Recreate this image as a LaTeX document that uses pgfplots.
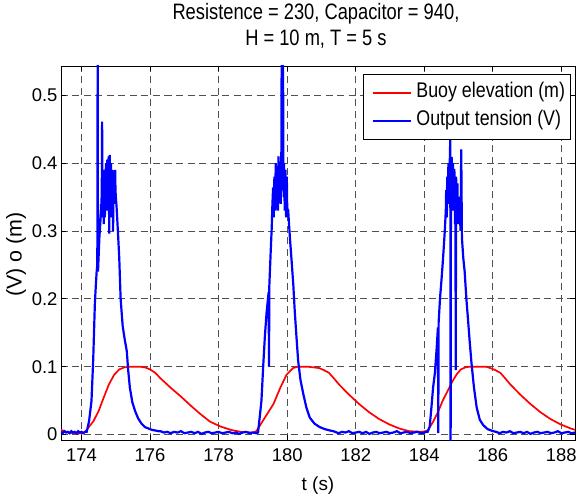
\documentclass[border=0pt]{standalone}
\usepackage{fontspec}
\setmainfont{Liberation Sans}
\newfontfamily\narrowfont{Liberation Sans}[FakeStretch=0.84]
\newfontfamily\titlefont{Liberation Sans}[FakeStretch=0.82]
\usepackage{pgfplots}
\pgfplotsset{compat=1.18}
\definecolor{gridgray}{RGB}{80,80,80}
\begin{document}
\begin{tikzpicture}
\useasboundingbox (-61bp,-59bp) rectangle (516bp,440bp);
\begin{axis}[
  at={(0,0)}, anchor=south west,
  scale only axis, width=514bp, height=374bp,
  xmin=173.4, xmax=188.4, ymin=-0.008, ymax=0.543,
  xtick={174,176,178,180,182,184,186,188},
  ytick={0,0.1,0.2,0.3,0.4,0.5},
  /pgf/number format/assume math mode=true,
  /pgf/number format/fixed,
  ticklabel style={font=\fontsize{18.5}{20}\selectfont},
  xticklabel style={yshift=-5bp},
  tick align=inside, major tick length=5bp,
  tick style={black, line width=0.7bp},
  axis line style={black, line width=0.9bp},
  grid=major,
  grid style={gridgray, line width=0.7bp, dash pattern=on 7bp off 4.5bp},
  title={Resistence = 230, Capacitor = 940,\\H = 10 m, T = 5 s},
  title style={align=center, font=\titlefont\fontsize{22.4}{26}\selectfont,
    at={(axis description cs:0.496,1)}, anchor=south, inner sep=0pt, text depth=0pt, yshift=14bp},
  xlabel={t (s)},
  xlabel style={font=\fontsize{19}{20}\selectfont, at={(axis description cs:0.5,0)}, anchor=base, inner sep=0pt, yshift=-50bp},
  ylabel={(V) o (m)},
  ylabel style={font=\fontsize{21.5}{22}\selectfont, at={(axis description cs:-0.0875,0.496)}, anchor=center},
  legend cell align=left,
  legend style={at={(axis description cs:0.5875,0.9786)}, anchor=north west,
    draw=black, line width=0.9bp, fill=white,
    inner xsep=5bp, inner ysep=10bp, row sep=10bp,
    font=\narrowfont\fontsize{21.3}{22}\selectfont,
    nodes={inner sep=0pt, text height=13.5bp, text depth=4bp},
    /tikz/every odd column/.append style={column sep=5bp}},
  legend image code/.code={\path (0bp,0bp); \draw[#1, line width=1.8bp] (3bp,0bp) -- (41bp,0bp);},
]
\addplot[red, line width=1.7bp] coordinates {
(173.40,0.007) (173.55,0.004) (173.75,0.002) (173.95,0.002) (174.05,0.002)
(174.15,0.007) (174.35,0.020) (174.50,0.035) (174.65,0.055) (174.80,0.074)
(174.95,0.088) (175.10,0.096) (175.25,0.099) (175.40,0.100) (175.70,0.100)
(175.85,0.099) (176.00,0.096) (176.15,0.091) (176.30,0.083) (176.45,0.076)
(176.60,0.069) (176.90,0.056) (177.20,0.042) (177.45,0.031) (177.75,0.019)
(178.05,0.012) (178.35,0.007) (178.65,0.004) (179.00,0.003)
(179.10,0.005) (179.30,0.021) (179.45,0.033) (179.60,0.045) (179.80,0.069)
(179.98,0.088) (180.17,0.098) (180.32,0.100) (180.60,0.100) (180.93,0.098)
(181.07,0.095) (181.22,0.091) (181.36,0.083) (181.51,0.074) (181.80,0.059)
(182.10,0.045) (182.39,0.033) (182.68,0.023) (182.98,0.015) (183.27,0.009)
(183.56,0.005) (183.95,0.004)
(184.10,0.006) (184.25,0.018) (184.40,0.033) (184.54,0.050) (184.70,0.066)
(184.83,0.079) (184.95,0.089) (185.07,0.096) (185.20,0.099) (185.32,0.100)
(185.60,0.100) (185.80,0.100) (185.93,0.098) (186.07,0.095) (186.22,0.091)
(186.36,0.083) (186.51,0.074) (186.80,0.059) (187.10,0.045) (187.39,0.033)
(187.68,0.023) (187.98,0.015) (188.27,0.009) (188.40,0.007)
};
\addlegendentry{Buoy elevation (m)}
\addplot[blue, line width=2.2bp] coordinates {
(173.40,0.004) (173.45,0.002) (173.50,0.005) (173.55,0.003) (173.60,0.004)
(173.65,0.002) (173.70,0.005) (173.75,0.003) (173.80,0.004) (173.85,0.002)
(173.90,0.005) (173.95,0.003) (174.00,0.004) (174.05,0.002) (174.10,0.004)
(174.15,0.004) (174.22,0.020) (174.29,0.050) (174.34,0.110) (174.39,0.196)
(174.44,0.240) (174.46,0.250) (174.47,0.560) (174.48,0.240) (174.52,0.290)
(174.54,0.306) (174.57,0.330) (174.59,0.355) (174.60,0.461) (174.61,0.330)
(174.62,0.370) (174.63,0.320) (174.64,0.380) (174.65,0.310) (174.66,0.370)
(174.67,0.390) (174.68,0.320) (174.69,0.360) (174.70,0.330) (174.71,0.400)
(174.72,0.350) (174.73,0.340) (174.74,0.390) (174.75,0.405) (174.76,0.350)
(174.77,0.330) (174.78,0.380) (174.79,0.410) (174.80,0.340) (174.81,0.296)
(174.82,0.412) (174.83,0.360) (174.84,0.350) (174.85,0.390) (174.86,0.400)
(174.87,0.340) (174.88,0.320) (174.89,0.370) (174.90,0.390) (174.91,0.340)
(174.92,0.300) (174.93,0.360) (174.94,0.385) (174.95,0.350) (174.96,0.340)
(174.97,0.380) (174.98,0.390) (174.99,0.360) (175.00,0.350)
(175.02,0.337) (175.06,0.300) (175.10,0.260) (175.14,0.200) (175.20,0.160)
(175.26,0.140) (175.32,0.123) (175.36,0.095) (175.41,0.069) (175.48,0.048)
(175.56,0.035) (175.65,0.024) (175.75,0.016) (175.85,0.011) (175.95,0.009)
(176.05,0.007) (176.15,0.006) (176.25,0.005)
(176.30,0.005) (176.40,0.003) (176.50,0.004) (176.60,0.002) (176.70,0.004)
(176.80,0.003) (176.90,0.005) (177.00,0.002) (177.10,0.003) (177.20,0.004)
(177.30,0.002) (177.40,0.004) (177.50,0.001) (177.60,0.003) (177.70,0.004)
(177.80,0.002) (177.90,0.003) (178.00,0.004) (178.10,0.002) (178.20,0.003)
(178.30,0.004) (178.40,0.002) (178.50,0.003) (178.60,0.001) (178.70,0.003)
(178.80,0.004) (178.90,0.002) (179.00,0.003) (179.10,0.002)
(179.15,0.003) (179.20,0.026) (179.25,0.050) (179.30,0.100) (179.35,0.145)
(179.40,0.180) (179.44,0.200) (179.46,0.210) (179.47,0.100) (179.48,0.220)
(179.52,0.270) (179.55,0.305) (179.57,0.340) (179.59,0.364) (179.60,0.330)
(179.61,0.320) (179.62,0.370) (179.63,0.380) (179.64,0.340) (179.65,0.330)
(179.66,0.380) (179.67,0.400) (179.68,0.350) (179.69,0.340) (179.70,0.380)
(179.71,0.390) (179.72,0.340) (179.73,0.330) (179.74,0.390) (179.75,0.410)
(179.76,0.360) (179.77,0.350) (179.78,0.390) (179.79,0.400) (179.80,0.350)
(179.81,0.340) (179.82,0.380) (179.83,0.410) (179.84,0.560) (179.85,0.360)
(179.86,0.390) (179.87,0.410) (179.88,0.560) (179.89,0.370) (179.90,0.350)
(179.91,0.400) (179.92,0.360) (179.93,0.330) (179.94,0.370) (179.95,0.390)
(179.96,0.340) (179.97,0.320) (179.98,0.360) (179.99,0.380) (180.00,0.340)
(180.01,0.330) (180.03,0.330) (180.08,0.290) (180.13,0.256)
(180.18,0.220) (180.22,0.183) (180.27,0.145) (180.32,0.109) (180.39,0.080)
(180.47,0.060) (180.56,0.040) (180.66,0.025) (180.80,0.016) (180.95,0.011)
(181.10,0.008) (181.25,0.006) (181.35,0.005)
(181.40,0.004) (181.50,0.002) (181.60,0.004) (181.70,0.003) (181.80,0.005)
(181.90,0.002) (182.00,0.003) (182.10,0.004) (182.20,0.002) (182.30,0.004)
(182.40,0.001) (182.50,0.003) (182.60,0.004) (182.70,0.002) (182.80,0.003)
(182.90,0.004) (183.00,0.002) (183.10,0.003) (183.20,0.005) (183.30,0.002)
(183.40,0.003) (183.50,0.004) (183.60,0.002) (183.70,0.003) (183.80,0.004)
(183.90,0.002) (184.00,0.003) (184.05,0.004)
(184.10,0.004) (184.16,0.012) (184.21,0.040) (184.26,0.070) (184.31,0.090)
(184.36,0.125) (184.39,0.150) (184.40,0.158) (184.41,0.002) (184.42,0.165)
(184.46,0.200) (184.51,0.232) (184.55,0.260) (184.60,0.300) (184.63,0.330)
(184.64,0.360) (184.65,0.350) (184.66,0.320) (184.67,0.380) (184.68,0.370)
(184.69,0.340) (184.70,0.390) (184.71,0.400) (184.72,0.350) (184.73,0.360)
(184.74,0.400) (184.75,0.409) (184.76,0.440) (184.77,-0.030) (184.78,0.370)
(184.79,0.390) (184.80,0.409) (184.81,0.360) (184.82,0.330) (184.83,0.380)
(184.84,0.400) (184.85,0.370) (184.86,0.350) (184.87,0.390) (184.88,0.390)
(184.89,0.340) (184.90,0.310) (184.91,0.350) (184.92,0.095) (184.93,0.380)
(184.94,0.360) (184.95,0.330) (184.96,0.360) (184.97,0.370) (184.98,0.330)
(185.00,0.310) (185.01,0.350)
(185.03,0.340) (185.06,0.300) (185.08,0.420) (185.10,0.290) (185.14,0.260)
(185.18,0.240) (185.23,0.200) (185.28,0.168) (185.33,0.135) (185.38,0.105)
(185.45,0.070) (185.53,0.040) (185.62,0.022) (185.72,0.014) (185.85,0.008)
(186.01,0.005)
(186.10,0.004) (186.20,0.002) (186.30,0.004) (186.40,0.003) (186.50,0.005)
(186.60,0.002) (186.70,0.003) (186.80,0.004) (186.90,0.002) (187.00,0.004)
(187.10,0.001) (187.20,0.003) (187.30,0.004) (187.40,0.002) (187.50,0.003)
(187.60,0.004) (187.70,0.002) (187.80,0.003) (187.90,0.005) (188.00,0.002)
(188.10,0.003) (188.20,0.004) (188.30,0.002) (188.40,0.003)
};
\addlegendentry{Output tension (V)}
\end{axis}
\end{tikzpicture}
\end{document}
